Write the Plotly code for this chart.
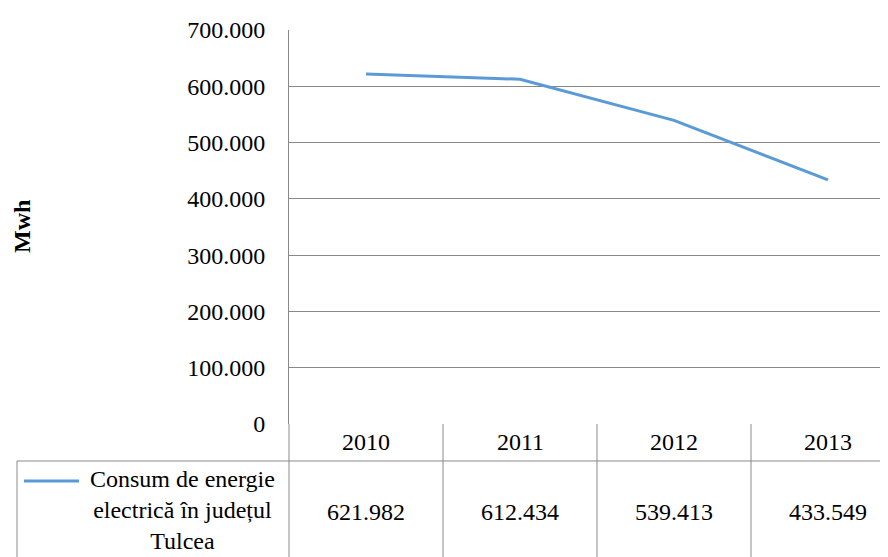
import plotly.graph_objects as go

# consumption of electric energy, Tulcea county (MWh)
years = ["2010", "2011", "2012", "2013"]
consum = [621982, 612434, 539413, 433549]
series_name = "Consum de energie<br>electrică în județul<br>Tulcea"

blue = "#5B9BD5"
grey = "#898989"
font = "Liberation Serif, DejaVu Serif, serif"
fsize = 24

# the page body adds an 8px offset, so work in screen pixels and shift
off = 8
left, right, top, bottom = 289, 888, 30, 424
plot_w = right - left
plot_h = bottom - top
col_w = 154

def px_x(p):
    return (p - left) / plot_w

def px_y(p):
    return (bottom - p) / plot_h

fig = go.Figure()
fig.add_trace(go.Scatter(
    x=years, y=consum, mode="lines",
    line=dict(color=blue, width=3),
    showlegend=False,
))

shapes = []
# data table grid: column separators below the axis
for i in range(len(years)):
    shapes.append(dict(type="line", xref="x", yref="paper",
                       x0=i + 0.5, x1=i + 0.5, y0=0, y1=px_y(570),
                       line=dict(color=grey, width=1)))
# axis line continues down through the table
shapes.append(dict(type="line", xref="paper", yref="paper",
                   x0=0, x1=0, y0=0, y1=px_y(570),
                   line=dict(color=grey, width=1)))
# line under the header row
shapes.append(dict(type="line", xref="paper", yref="paper",
                   x0=px_x(17), x1=1, y0=px_y(461), y1=px_y(461),
                   line=dict(color=grey, width=1)))
# left border of the legend cell
shapes.append(dict(type="line", xref="paper", yref="paper",
                   x0=px_x(17), x1=px_x(17), y0=px_y(461), y1=px_y(570),
                   line=dict(color=grey, width=1)))
# legend key
shapes.append(dict(type="line", xref="paper", yref="paper",
                   x0=px_x(24), x1=px_x(79), y0=px_y(481), y1=px_y(481),
                   line=dict(color=blue, width=3)))

tfont = dict(family=font, size=fsize, color="black")
annotations = []
for i, (yr, v) in enumerate(zip(years, consum)):
    annotations.append(dict(x=i, y=px_y(442), xref="x", yref="paper",
                            xanchor="center", yanchor="middle",
                            text=yr, showarrow=False, font=tfont))
    annotations.append(dict(x=i, y=px_y(512), xref="x", yref="paper",
                            xanchor="center", yanchor="middle",
                            text=f"{v:,}".replace(",", "."), showarrow=False,
                            font=tfont))
annotations.append(dict(x=px_x(182), y=px_y(510), xref="paper", yref="paper",
                        xanchor="center", yanchor="middle",
                        text=series_name, showarrow=False, align="center",
                        font=tfont))
annotations.append(dict(x=px_x(22), y=px_y(227), xref="paper", yref="paper",
                        xanchor="center", yanchor="middle", borderpad=0,
                        text="<b>Mwh</b>", showarrow=False, textangle=-90,
                        font=tfont))

fig.update_layout(
    width=888 - off, height=557 - off,
    margin=dict(l=left - off, r=0, t=top - off, b=557 - bottom),
    paper_bgcolor="white", plot_bgcolor="white",
    separators=",.",
    font=dict(family=font, size=fsize, color="black"),
    xaxis=dict(type="category", range=[-0.5, -0.5 + plot_w / col_w],
               showticklabels=False, showgrid=False, zeroline=False,
               showline=False, fixedrange=True),
    yaxis=dict(range=[0, 700000], dtick=100000, tickformat=",.0f",
               showgrid=True, gridcolor=grey, gridwidth=1,
               showline=True, linecolor=grey, linewidth=1, zeroline=False,
               ticks="", ticklabelstandoff=18, tickfont=tfont),
    shapes=shapes,
    annotations=annotations,
)

fig.write_html("out.html")
